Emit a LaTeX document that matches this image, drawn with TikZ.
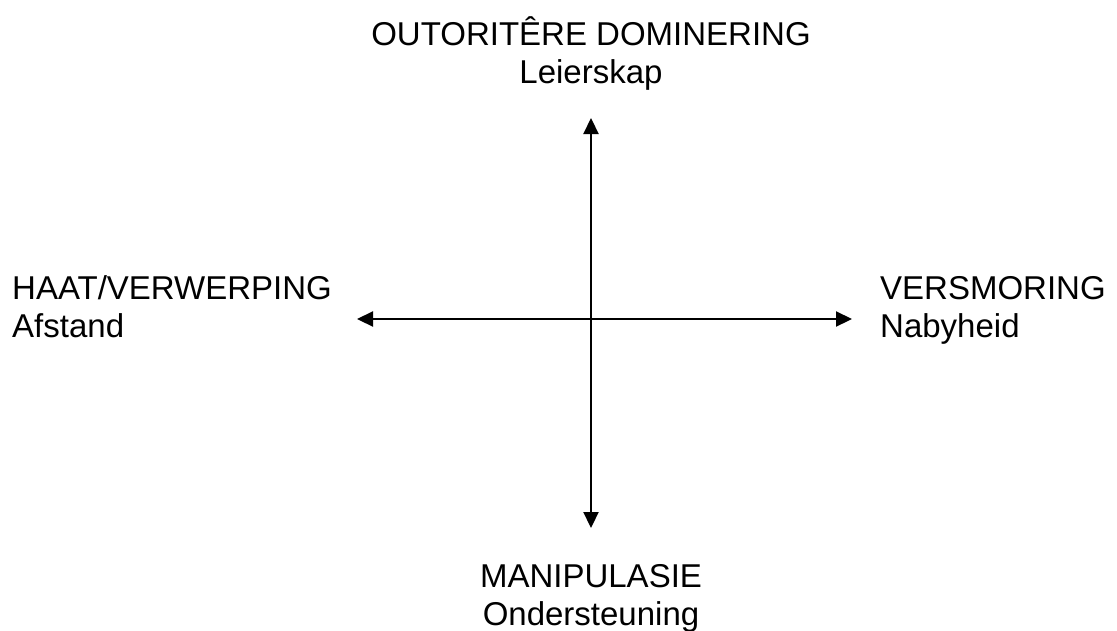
\documentclass[tikz,border=0pt]{standalone}
\usepackage{fontspec}
\setmainfont{Liberation Sans}
\usetikzlibrary{arrows.meta, positioning}
\tikzset{
    axis/.style={line width=2.2pt, {Triangle[length=16pt,width=15pt]}-{Triangle[length=16pt,width=15pt]}},
    pole/.style={inner sep=0pt, font=\fontsize{33}{38}\selectfont}
}
\begin{document}
\begin{tikzpicture}[x=1pt,y=-1pt]
    \useasboundingbox (0,0) rectangle (1117,630);
    \def \cx {591}
    \def \cy {319}
    % ends of the two axes
    \coordinate (top) at (\cx,118);
    \coordinate (bottom) at (\cx,528);
    \coordinate (left) at (357,\cy);
    \coordinate (right) at (852,\cy);
    \draw[axis] (top) -- (bottom);
    \draw[axis] (left) -- (right);
    % labels (base = baseline of the last line)
    \node[pole, align=center, anchor=base] (north) at (\cx,83) {OUTORITÊRE DOMINERING\\Leierskap};
    \node[pole, align=center, anchor=base] (south) at (\cx,625) {MANIPULASIE\\Ondersteuning};
    \node[pole, align=left, anchor=base west] (west) at (12,337) {HAAT/VERWERPING\\Afstand};
    \node[pole, align=left, anchor=base west] (east) at (880,337) {VERSMORING\\Nabyheid};
\end{tikzpicture}
\end{document}
